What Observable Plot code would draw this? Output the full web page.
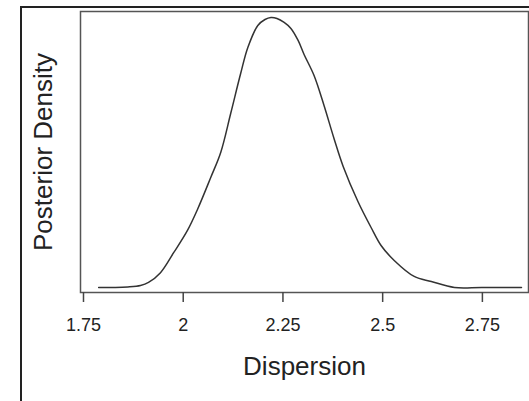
<!DOCTYPE html>
<html>
<head>
<meta charset="utf-8">
<script src="https://cdn.jsdelivr.net/npm/d3@7"></script>
<script src="https://cdn.jsdelivr.net/npm/@observablehq/plot@0.6"></script>
<style>
  html, body { margin: 0; padding: 0; background: #fff; overflow: hidden; }
  #wrap { position: relative; width: 529px; height: 401px; overflow: hidden; }
  #outer { position: absolute; left: 20px; top: 6px; width: 600px; height: 500px; border: 2px solid #222; box-sizing: border-box; pointer-events: none; }
  #chart { position: absolute; left: 0; top: 0; }
</style>
</head>
<body>
<div id="wrap"><div id="chart"></div><div id="outer"></div></div>
<script>
// Posterior density of the dispersion parameter
const dispersion = [1.788, 1.830, 1.861, 1.893, 1.913, 1.943, 1.976, 2.011, 2.036, 2.069, 2.094, 2.119, 2.144, 2.162, 2.187, 2.205, 2.220, 2.235, 2.253, 2.270, 2.288, 2.303, 2.328, 2.353, 2.378, 2.401, 2.438, 2.471, 2.496, 2.529, 2.579, 2.622, 2.680, 2.748, 2.848];
const density    = [0.000, 0.000, 0.006, 0.023, 0.058, 0.170, 0.400, 0.660, 0.900, 1.265, 1.553, 2.001, 2.461, 2.760, 3.013, 3.082, 3.105, 3.094, 3.048, 2.979, 2.841, 2.680, 2.438, 2.093, 1.714, 1.392, 0.989, 0.690, 0.483, 0.311, 0.127, 0.069, 0.000, 0.000, 0.000];
const xTicks = [1.75, 2, 2.25, 2.5, 2.75];
const xTitle = "Dispersion";
const yTitle = "Posterior Density";

const data = dispersion.map((d, i) => ({x: d, y: density[i]}));

const chart = Plot.plot({
  width: 529,
  height: 401,
  marginLeft: 80,
  marginRight: 1,
  marginTop: 11,
  marginBottom: 109,
  style: {fontFamily: "'Liberation Sans', Arial, sans-serif", fontSize: "18px", color: "#222", background: "#fff"},
  x: {domain: [1.7425, 2.8656], ticks: xTicks},
  y: {domain: [-0.0575, 3.174], axis: null},
  marks: [
    Plot.frame({stroke: "#555", strokeWidth: 1.5}),
    Plot.line(data, {x: "x", y: "y", stroke: "#333", strokeWidth: 1.5, curve: "catmull-rom"}),
    Plot.axisX({ticks: xTicks, tickSize: 10, tickPadding: 16, tickFormat: d => String(d), stroke: "#444", strokeWidth: 1.5, fill: "#222", fontSize: 18, label: null}),
    Plot.text([xTitle], {frameAnchor: "bottom", dy: 74, textAnchor: "middle", lineAnchor: "middle", fontSize: 26, fill: "#222", text: d => d}),
    Plot.text([yTitle], {frameAnchor: "left", dx: -37, rotate: -90, textAnchor: "middle", lineAnchor: "middle", fontSize: 26, fill: "#222", text: d => d})
  ]
});
document.getElementById("chart").appendChild(chart);
</script>
</body>
</html>
